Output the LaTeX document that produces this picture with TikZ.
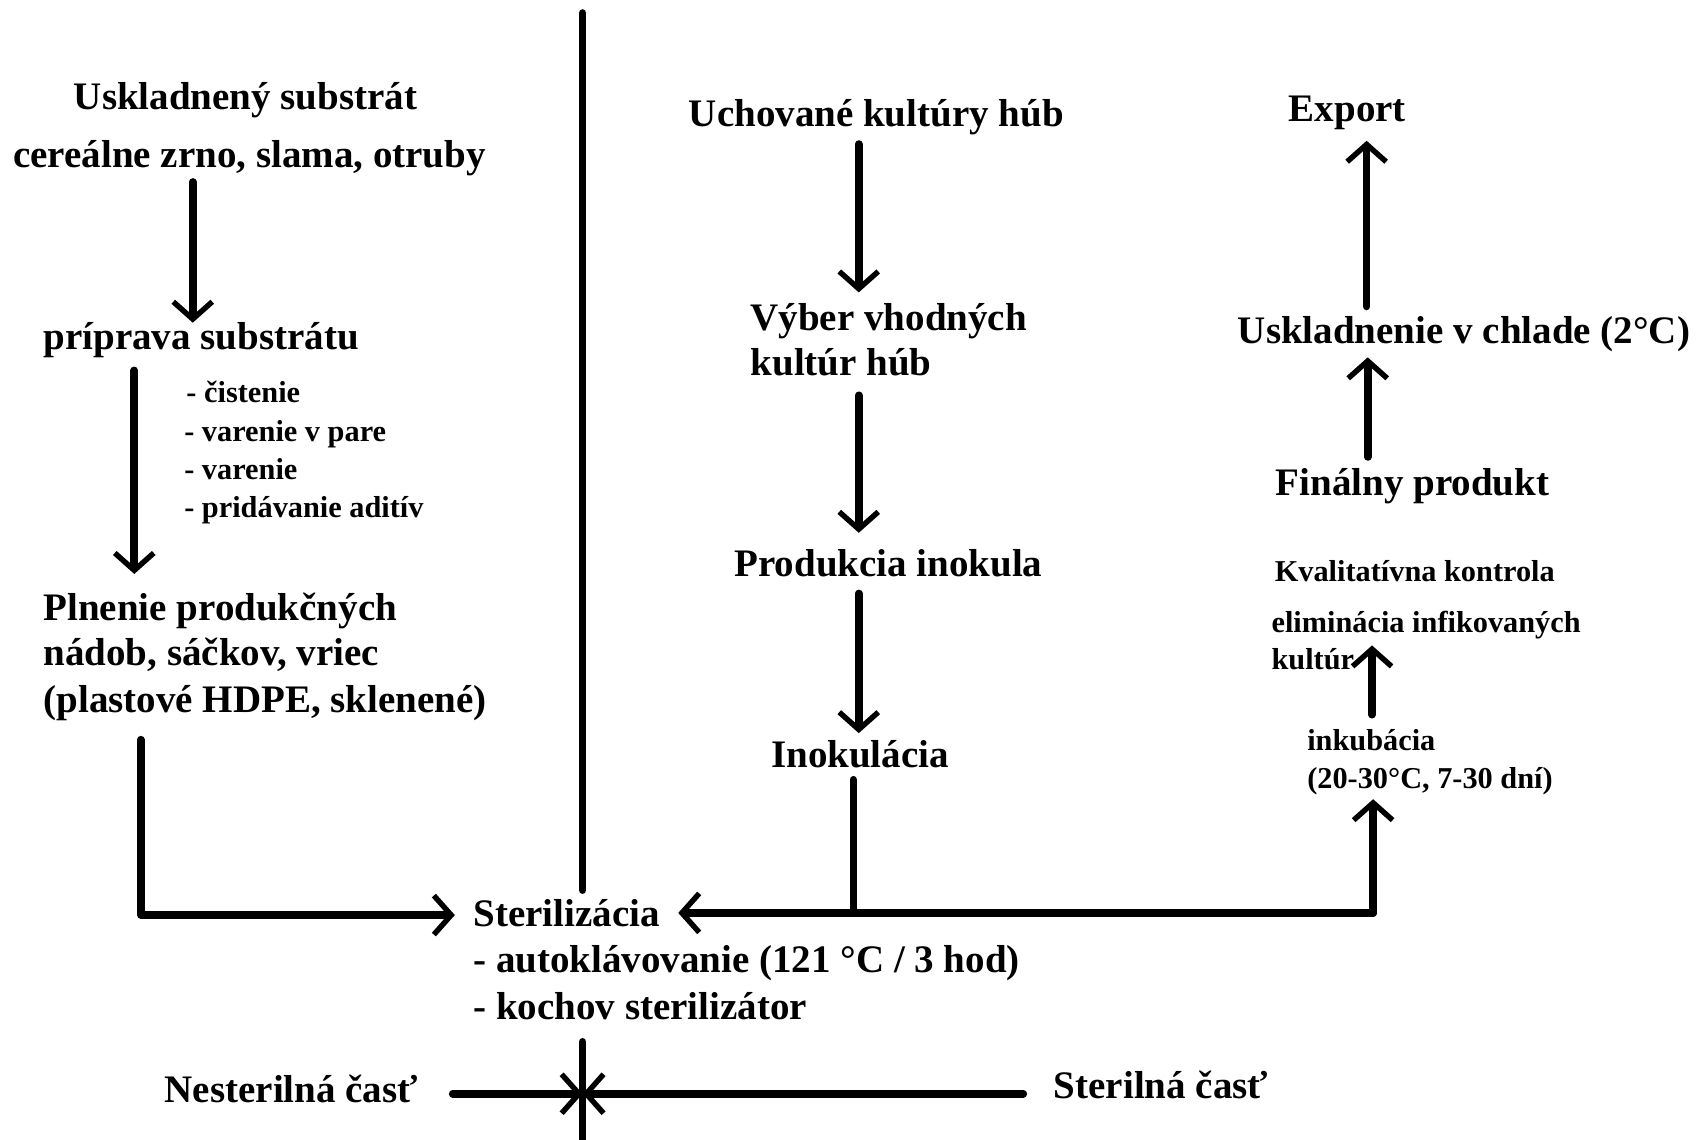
\documentclass[tikz,border=0pt]{standalone}
\usepackage{fontspec}
\setmainfont{Liberation Serif}
\usetikzlibrary{arrows.meta,calc}
\begin{document}
\begin{tikzpicture}[x=1pt,y=-1pt,
  big/.style={font=\fontsize{36}{43}\selectfont\bfseries, inner sep=0pt, anchor=base west},
  small/.style={font=\fontsize{28}{34}\selectfont\bfseries, inner sep=0pt, anchor=base west},
  conn/.style={line width=7pt, line cap=round, line join=round},
  arr/.style={conn, -{Straight Barb[length=16pt,width=36pt,line width=5pt]}},
]
\fill[white] (0,0) rectangle (1568,1052);
\useasboundingbox (0,0) rectangle (1568,1052);

% left column
\node[big] (us) at (68,101) {Uskladnený substrát};
\node[big] (cer) at (12,155) {cereálne zrno, slama, otruby};
\node[big] (pri) at (40,323) {príprava substrátu};
\node[small] (s1) at (172,372) {- čistenie};
\node[small] (s2) at (170,408) {- varenie v pare};
\node[small] (s3) at (170,443) {- varenie};
\node[small] (s4) at (170,478) {- pridávanie aditív};
\node[big] (pl1) at (40,573) {Plnenie produkčných};
\node[big] (pl2) at (40,615) {nádob, sáčkov, vriec};
\node[big] (pl3) at (40,658) {(plastové HDPE, sklenené)};

% sterilization
\node[big] (ster) at (437,856) {Sterilizácia};
\node[big] (st2) at (437,898) {- autoklávovanie (121 °C / 3 hod)};
\node[big] (st3) at (437,941) {- kochov sterilizátor};

% middle column
\node[big] (uch) at (636,117) {Uchované kultúry húb};
\node[big] (vy1) at (693,305) {Výber vhodných};
\node[big] (vy2) at (693,347) {kultúr húb};
\node[big] (pro) at (678,532) {Produkcia inokula};
\node[big] (ino) at (712,709) {Inokulácia};

% right column
\node[big] (exp) at (1190,112) {Export};
\node[big] (usk) at (1143,317) {Uskladnenie v chlade (2°C)};
\node[big] (fin) at (1178,458) {Finálny produkt};
\node[small] (kv) at (1177,537) {Kvalitatívna kontrola};
\node[small] (el1) at (1174,584) {eliminácia infikovaných};
\node[small] (el2) at (1174,618) {kultúr};
\node[small] (in1) at (1207,693) {inkubácia};
\node[small] (in2) at (1207,728) {(20-30°C, 7-30 dní)};

% bottom
\node[big] (nes) at (152,1018) {Nesterilná časť};
\node[big] (sts) at (973,1014) {Sterilná časť};

\coordinate (dtop) at (538,12);
\coordinate (dmid) at (538,822);
\coordinate (dlow) at (538,962);
\coordinate (dbot) at (538,1060);
\coordinate (cx) at (538,1010);
\coordinate (jn) at ($(ster.base west)+(831,-13)$);

\draw[conn] (dtop) -- (dmid);
\draw[conn] (dlow) -- (dbot);
\draw[arr] ($(nes.base west)+(266,-8)$) -- (cx);
\draw[arr] ($(sts.base west)+(-28,-4)$) -- (cx);

\draw[arr] ($(cer.base west)+(166,13)$) -- ($(pri.base west)+(138,-25)$);
\draw[arr] ($(pri.base west)+(84,19)$) -- ($(pl1.base west)+(84,-43)$);
\draw[arr] ($(pl3.base west)+(90,25)$) |- ($(ster.base west)+(-17,-11)$);

\draw[arr] ($(uch.base west)+(157,16)$) -- ($(vy1.base west)+(100,-35)$);
\draw[arr] ($(vy2.base west)+(100,18)$) -- ($(pro.base west)+(115,-40)$);
\draw[arr] ($(pro.base west)+(115,16)$) -- ($(ino.base west)+(81,-32)$);
\draw[conn] ($(ino.base west)+(76,11)$) |- (jn);
\draw[arr] (jn) -- ($(ster.base east)+(17,-13)$);
\draw[arr] (jn) -- ($(in2.base west)+(61,10)$);
\draw[arr] ($(in1.base west)+(60,-33)$) -- ($(el2.base west)+(93,-22)$);
\draw[arr] ($(fin.base west)+(85,-36)$) -- ($(usk.base west)+(120,13)$);
\draw[arr] ($(usk.base west)+(119,-34)$) -- ($(exp.base west)+(72,18)$);
\end{tikzpicture}
\end{document}
